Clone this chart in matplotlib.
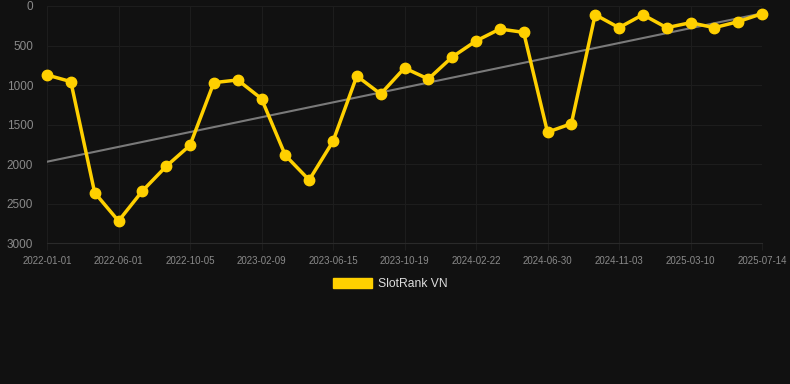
import matplotlib
matplotlib.use("Agg")
import matplotlib.pyplot as plt
from matplotlib.patches import Patch
import numpy as np

plt.rcParams['font.family'] = ['Liberation Sans', 'DejaVu Sans']

# rank values, one per point (lower is better)
ranks = [872, 956, 2360, 2718, 2339, 2027, 1761, 969, 935, 1172,
         1888, 2200, 1711, 885, 1113, 784, 923, 645, 442, 291,
         333, 1595, 1488, 110, 274, 110, 274, 211, 274, 198, 97]
tick_labels = ['2022-01-01', '2022-06-01', '2022-10-05', '2023-02-09',
               '2023-06-15', '2023-10-19', '2024-02-22', '2024-06-30',
               '2024-11-03', '2025-03-10', '2025-07-14']
y_ticks = [0, 500, 1000, 1500, 2000, 2500, 3000]

bg = '#111111'
gold = '#FFD000'
grid_c = '#1d1d1d'
text_c = '#8a8a8a'

x = np.arange(len(ranks))
k, b = np.polyfit(x, ranks, 1)

fig = plt.figure(figsize=(7.9, 3.84), dpi=100, facecolor=bg)
ax = fig.add_axes([47/790, 1 - 243.3/384, 715/790, 237.3/384], facecolor=bg)

ax.plot(x, k * x + b, color='#7a7a7a', lw=1.5, zorder=2)
ax.plot(x, ranks, color=gold, lw=2.5, marker='o', ms=7.5, zorder=3, clip_on=False)

ax.set_xlim(0, len(ranks) - 1)
ax.set_ylim(3000, 0)
ax.set_xticks(x[::3])
ax.set_xticklabels(tick_labels)
ax.set_yticks(y_ticks)
ax.grid(True, color=grid_c, lw=0.8)
for s in ax.spines.values():
    s.set_visible(False)
ax.spines['bottom'].set_visible(True)
ax.spines['bottom'].set_color('#2a2a2a')
ax.spines['bottom'].set_linewidth(0.8)
ax.tick_params(axis='x', colors=grid_c, length=5, width=0.8, labelsize=7, labelcolor=text_c, pad=4)
ax.tick_params(axis='y', length=0, labelsize=8.5, labelcolor=text_c, pad=10)

fig.legend(handles=[Patch(facecolor=gold, edgecolor=gold, label='SlotRank VN')],
           loc='center', bbox_to_anchor=(390/790, 1 - 284/384), frameon=False,
           fontsize=8.7, labelcolor='#dddddd', handlelength=3.25, handleheight=0.85,
           handletextpad=0.5)

fig.savefig('out.png', dpi=100, facecolor=bg)
